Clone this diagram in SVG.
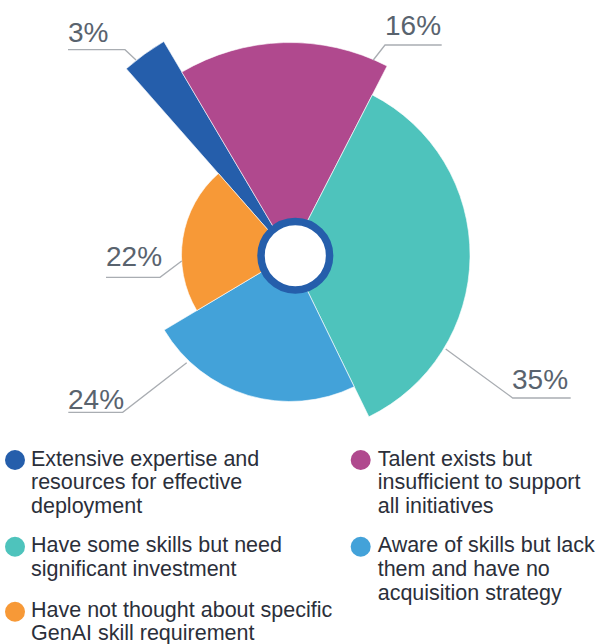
<svg xmlns="http://www.w3.org/2000/svg" width="600" height="644" viewBox="0 0 600 644">
<style>
.seg{stroke:#ffffff;stroke-width:0.6;stroke-linejoin:miter}
.lead{fill:none;stroke:#a9adb2;stroke-width:1.3}
.pct{font-family:"Liberation Sans",Arial,sans-serif;font-size:28px;fill:#59636e}
.leg{font-family:"Liberation Sans",Arial,sans-serif;font-size:21.5px;fill:#2b2f3a}
</style>
<rect width="600" height="644" fill="#ffffff"/>
<g id="segments">
<g id="seg-dark-blue"><path class="seg" fill="#255EAB" d="M290,255 L126.3,68.7 A248,248 0 0 1 163.8,41.5 Z"/></g>
<g id="seg-magenta"><path class="seg" fill="#B0498E" d="M290,255 L181.8,72.1 A212.5,212.5 0 0 1 387.1,66.0 Z"/></g>
<g id="seg-teal"><path class="seg" fill="#4EC3BC" d="M290,255 L372.3,94.9 A180,180 0 0 1 368.9,416.8 Z"/></g>
<g id="seg-light-blue"><path class="seg" fill="#43A2D9" d="M290,255 L354.2,386.7 A146.5,146.5 0 0 1 164.2,330.0 Z"/></g>
<g id="seg-orange"><path class="seg" fill="#F79937" d="M290,255 L196.8,310.6 A108.5,108.5 0 0 1 218.4,173.5 Z"/></g>
<g id="center-ring"><circle cx="295.3" cy="255.7" r="34.3" fill="#ffffff" stroke="#255EAB" stroke-width="7.5"/></g>
</g>
<g id="connectors">
<polyline class="lead" points="68,49.7 125,49.7 136,60"/>
<polyline class="lead" points="441.7,45 385,45 373.3,60"/>
<polyline class="lead" points="106,277.3 160,277.3 181.7,261"/>
<polyline class="lead" points="68.3,412.3 122.7,412.3 186.7,362.7"/>
<polyline class="lead" points="445.7,349 512.7,398 570.7,398"/>
</g>
<g id="labels">
<text class="pct" x="68" y="42">3%</text>
<text class="pct" x="385" y="35">16%</text>
<text class="pct" x="106" y="265.7">22%</text>
<text class="pct" x="68" y="409">24%</text>
<text class="pct" x="512" y="389">35%</text>
</g>
<g id="legend">
<g id="legend-dark-blue">
<circle cx="15" cy="460" r="10" fill="#255EAB"/>
<text class="leg" x="31" y="465.7">Extensive expertise and</text>
<text class="leg" x="31" y="489.2">resources for effective</text>
<text class="leg" x="31" y="512.7">deployment</text>
</g>
<g id="legend-magenta">
<circle cx="360.7" cy="460" r="10" fill="#B0498E"/>
<text class="leg" x="377.7" y="465.7">Talent exists but</text>
<text class="leg" x="377.7" y="489.2">insufficient to support</text>
<text class="leg" x="377.7" y="512.7">all initiatives</text>
</g>
<g id="legend-teal">
<circle cx="15" cy="546.7" r="10" fill="#4EC3BC"/>
<text class="leg" x="31" y="552.3">Have some skills but need</text>
<text class="leg" x="31" y="576">significant investment</text>
</g>
<g id="legend-light-blue">
<circle cx="360.7" cy="546.7" r="10" fill="#43A2D9"/>
<text class="leg" x="377.7" y="552.3">Aware of skills but lack</text>
<text class="leg" x="377.7" y="576">them and have no</text>
<text class="leg" x="377.7" y="599.7">acquisition strategy</text>
</g>
<g id="legend-orange">
<circle cx="15" cy="611.7" r="10" fill="#F79937"/>
<text class="leg" x="31" y="616.7">Have not thought about specific</text>
<text class="leg" x="31" y="640.2">GenAI skill requirement</text>
</g>
</g>
</svg>
